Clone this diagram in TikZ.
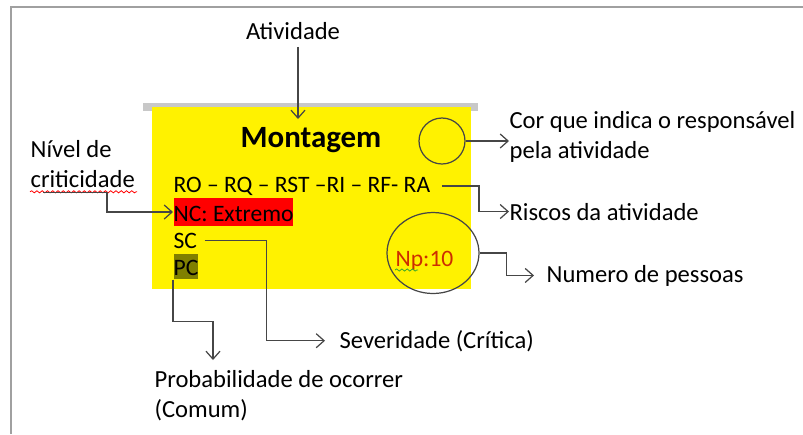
\documentclass[tikz,border=0pt]{standalone}
\usepackage{fontspec}
\setmainfont{Carlito}
\usetikzlibrary{arrows.meta,calc,positioning,shapes.geometric,decorations.pathmorphing}

\definecolor{linegray}{RGB}{70,70,70}
\definecolor{framegray}{RGB}{160,160,160}
\definecolor{bargray}{RGB}{200,200,200}
\definecolor{pcolive}{RGB}{128,128,0}
\definecolor{npred}{RGB}{205,45,0}
\definecolor{squiggreen}{RGB}{60,170,40}

\begin{document}
\begin{tikzpicture}[
    x=0.02cm, y=-0.02cm,
    >={Straight Barb[length=4.5pt,width=8pt]},
    line width=0.7pt,
    every node/.style={font=\fontsize{14}{17}\selectfont, inner sep=0pt},
    lbl/.style={anchor=base west},
    cardtxt/.style={anchor=base west, font=\fontsize{13.4}{16}\selectfont},
    conn/.style={->, draw=linegray},
    squiggle/.style={decorate, line width=0.45pt,
      decoration={snake, amplitude=0.6pt, segment length=3pt}},
  ]

  \useasboundingbox (0,0) rectangle (803,434);

  % ---- frame, bar and card --------------------------------------------
  \draw[framegray, line width=1.1pt] (11,434) -- (11,7) -- (803,7);
  \fill[bargray] (143,103) rectangle (478,111);
  \fill[yellow] (152,107) rectangle (471,289);

  % ---- card contents ---------------------------------------------------
  \node[anchor=base, font=\bfseries\fontsize{17.6}{20}\selectfont] (mont) at (311,147) {Montagem};
  \node[cardtxt] (riscos) at (173,192) {RO – RQ – RST –RI – RF- RA};
  \node[cardtxt, fill=red, text height=0.46cm, text depth=0.1cm] (nc) at (173,221) {NC: Extremo};
  \node[cardtxt] (sc) at (173,248) {SC};
  \node[cardtxt, fill=pcolive, text height=0.42cm, text depth=0.08cm] (pc) at (173,275) {PC};
  \node[cardtxt, text=npred] (np) at (395,266) {Np:10};
  \draw[squiggle, squiggreen] ($(np.base west)+(0,4)$) -- ++(23,0);

  \node[draw=linegray, circle, minimum size=0.92cm] (resp) at (442,141) {};
  \node[draw=linegray, ellipse, minimum width=1.84cm, minimum height=1.62cm] (npc) at (433,253) {};

  % ---- labels round the card (multi-line: base = last line) ------------
  \node[anchor=base] (ativ) at (293,39) {Atividade};
  \node[lbl, align=left] (crit) at (30,187) {Nível de\\criticidade};
  \draw[squiggle, red] ($(crit.south west)+(0,4)$) -- ++(107,0);
  \node[lbl, align=left] (resplbl) at (509,158) {Cor que indica o responsável\\pela atividade};
  \node[lbl] (risclbl) at (509,220) {Riscos da atividade};
  \node[lbl] (numlbl) at (546,282) {Numero de pessoas};
  \node[lbl] (sevlbl) at (339,348) {Severidade (Crítica)};
  \node[lbl, align=left] (problbl) at (154,417) {Probabilidade de ocorrer\\(Comum)};

  % ---- connectors ------------------------------------------------------
  \coordinate (ativtip) at (298,119);
  \coordinate (riscbend) at (479,184);
  \coordinate (probtip) at (213,360);
  \draw[conn] (ativ.south -| ativtip) ++(0,7) -- (ativtip);
  \draw[conn] (resp.east) -- (resp.east -| resplbl.west);
  \draw[conn] ([xshift=0.22cm]riscos.east) -- (riscos.east -| riscbend) |- (risclbl.west);
  \draw[conn] ($(crit.south west)+(13,5)$) -- ++(64,0) |- (nc.west);
  \draw[conn, shorten >=0.28cm] ([xshift=0.14cm]sc.east) -- ++(62,0) |- (sevlbl.west);
  \draw[conn] (pc.south west) -- ++(0,42) -| (probtip);
  \draw[conn, shorten >=0.24cm] (npc.east) -- ++(27,0) |- (numlbl.west);

\end{tikzpicture}
\end{document}
